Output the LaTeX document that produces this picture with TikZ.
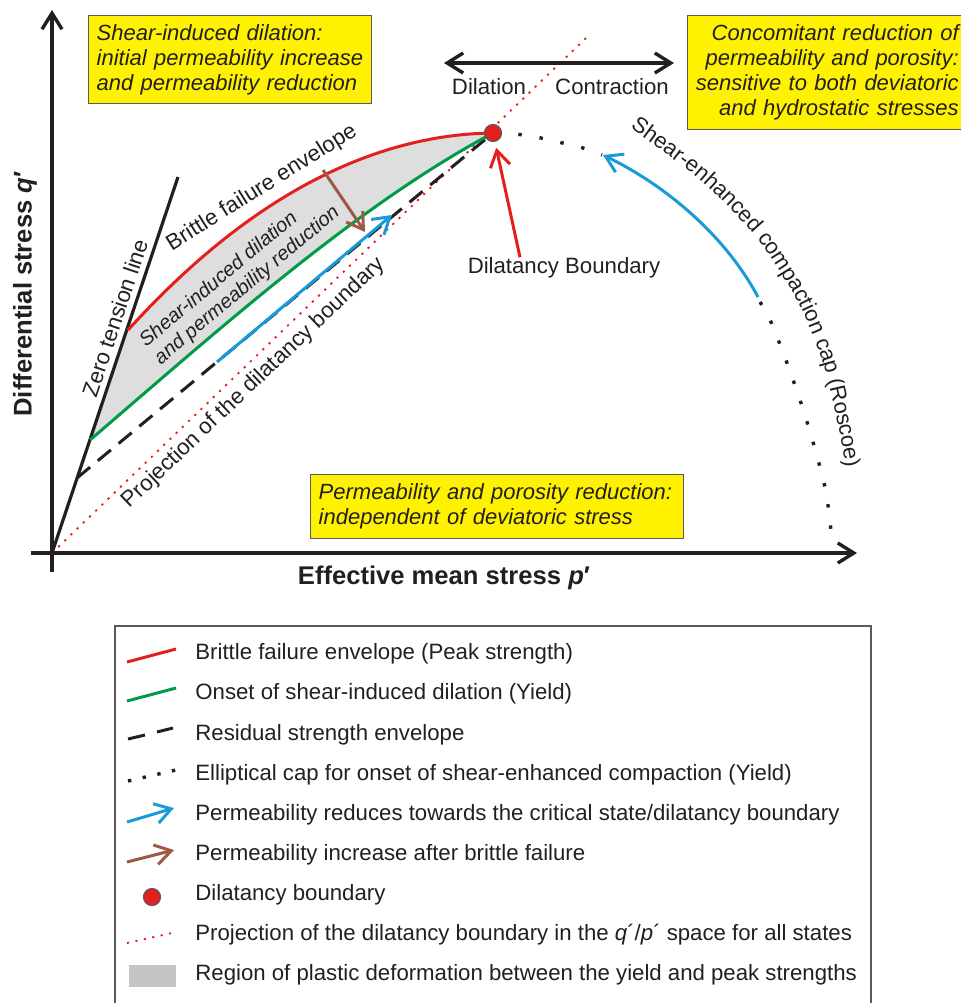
\documentclass[tikz,border=0pt]{standalone}
\usepackage{fontspec}
\setmainfont{Liberation Sans}
\usetikzlibrary{arrows.meta,positioning,decorations.text}
\definecolor{ink}{HTML}{231F20}
\definecolor{peakred}{HTML}{E3201E}
\definecolor{yieldgreen}{HTML}{009A48}
\definecolor{permblue}{HTML}{1A9AD7}
\definecolor{permbrown}{HTML}{9C5A46}
\definecolor{notepale}{HTML}{FFF200}
\definecolor{plastic}{HTML}{DEDEDE}
\definecolor{plastickey}{HTML}{C4C4C4}
\definecolor{frame}{HTML}{5A5A5A}
\newcommand\lblfont{\fontsize{11.1}{12.5}\selectfont}
\newcommand\capfont{\fontsize{11}{12.5}\selectfont}
\tikzset{
  >={Straight Barb[length=8pt,width=10pt]},
  axis/.style={->,line width=1.7pt,color=ink},
  note/.style={draw=frame,fill=notepale,line width=.7pt,inner xsep=4pt,inner ysep=0pt,font=\capfont\itshape,text=ink},
  lbl/.style={font=\lblfont,text=ink,inner sep=0pt},
  peak/.style={line width=1.5pt,color=peakred},
  yield/.style={line width=1.5pt,color=yieldgreen},
  residual/.style={line width=1.5pt,color=ink,dash pattern=on 8.5pt off 5pt},
  capdots/.style={line width=1.7pt,color=ink,dash pattern=on 1.7pt off 9pt},
  projline/.style={line width=.9pt,color=peakred,dash pattern=on 1.1pt off 3.2pt},
  permflow/.style={->,line width=1.5pt,color=permblue},
  failflow/.style={->,line width=1.5pt,color=permbrown},
  dbpoint/.style={circle,minimum size=8.5pt,inner sep=0pt,draw=frame,fill=peakred,line width=.6pt},
}

\begin{document}
\begin{tikzpicture}[x=0.5pt,y=-0.5pt]
  \useasboundingbox (0,0) rectangle (961,1003);

  % plastic region between yield and peak
  \fill[plastic] (128,330) .. controls (190,262) and (320,135) .. (493,133)
    .. controls (358,205) and (224,325) .. (90,440) -- cycle;

  % axes
  \coordinate (origin) at (52,553);
  \draw[axis] (52,572) -- (52,10);
  \draw[axis] (31,553) -- (857,553);

  % envelopes
  \draw[projline] (origin) -- (586,38);
  \draw[line width=1.6pt,color=ink] (origin) -- (178,177);
  \draw[residual] (77,478) -- (493,133);
  \draw[yield] (90,440) .. controls (224,325) and (358,205) .. (493,133);
  \draw[peak] (128,330) .. controls (190,262) and (320,135) .. (493,133);
  \draw[capdots] plot[smooth] coordinates {(497,133) (515,134) (536,137) (558,142) (580,147) (602,155)};
  \draw[capdots] plot[smooth] coordinates {(760,302) (771,322) (787,363) (802,406) (815,449) (826,492) (832,540)};

  \node[dbpoint] (dbpt) at (493,133) {};

  % permeability paths
  \coordinate (blueA) at (217,362);
  \coordinate (blueB) at (392,215);
  \draw[permflow] (blueA) -- (blueB);
  \coordinate (capA) at (758,297);
  \coordinate (capB) at (603,155);
  \draw[permflow] (capA) .. controls (725,235) and (665,185) .. (capB);
  \coordinate (brownA) at (323,170);
  \coordinate (brownB) at (365,232);
  \draw[failflow] (brownA) -- (brownB);

  % labels on the plot
  \node[lbl,rotate=71.5] (zerolbl) at (115,318) {Zero tension line};
  \node[lbl,rotate=32] (brittlelbl) at (262,188) {Brittle failure envelope};
  \node[lbl,rotate=43.5] (projlbl) at (254,383) {Projection of the dilatancy boundary};
  \node[lbl,font=\fontsize{10}{11.4}\selectfont\itshape,rotate=40,align=left] (plasticlbl) at (240,277)
    {Shear-induced dilation\\and permeability reduction};
  \node[lbl] (dblbl) at (564,268) {Dilatancy Boundary};
  \draw[->,line width=1.5pt,color=peakred,shorten >=3pt] ([xshift=-22pt]dblbl.north) -- (dbpt);
  \path[decorate,decoration={text along path,text={|\capfont\color{ink}|Shear-enhanced compaction cap (Roscoe)}}]
    plot[smooth] coordinates {(630,128) (700,180) (757,238) (797,300) (822,360) (837,420) (846,470) (850,520)};

  % dilation / contraction
  \coordinate (dilL) at (444,63);
  \coordinate (dilR) at (674,63);
  \draw[<->,line width=1.7pt,color=ink] (dilL) -- (dilR);
  \node[lbl] (dillbl) at (489,87) {Dilation};
  \node[lbl] (contlbl) at (612,87) {Contraction};

  % notes
  \node[note,anchor=north west,minimum width=141.5pt,minimum height=44pt,text width=133.5pt,align=left] (noteshear) at (88,15)
    {Shear-induced dilation:\\initial permeability increase\\and permeability reduction};
  \node[note,anchor=north west,minimum width=139.5pt,minimum height=57pt,text width=131.5pt,align=right] (noteconc) at (687,15)
    {Concomitant reduction of\\permeability and porosity:\\sensitive to both deviatoric\\and hydrostatic stresses};
  \node[note,anchor=north west,minimum width=186.5pt,minimum height=32pt,text width=178.5pt,align=left] (notehydro) at (310,474)
    {Permeability and porosity reduction:\\independent of deviatoric stress};

  % axis titles
  \node[lbl,font=\fontsize{12.8}{14}\selectfont\bfseries] (plbl) at (444,578) {Effective mean stress \textit{p}′};
  \node[lbl,font=\fontsize{12.8}{14}\selectfont\bfseries,rotate=90] (qlbl) at (25,294) {Differential stress \textit{q}′};

  % legend
  \draw[frame,line width=.6pt] (115,1012) rectangle (871,626);
  \draw[peak] (127,662) -- (176,649);
  \node[lbl,anchor=west] (key1) at (195,654) {Brittle failure envelope (Peak strength)};
  \draw[yield] (127,701) -- (176,688);
  \node[lbl,anchor=west] (key2) at (195,694) {Onset of shear-induced dilation (Yield)};
  \draw[line width=1.5pt,color=ink] (128,739) -- (145,735) (157,732) -- (173,728);
  \node[lbl,anchor=west] (key3) at (195,735) {Residual strength envelope};
  \draw[capdots,dash pattern=on 1.7pt off 5.8pt] (128,781) -- (176,770);
  \node[lbl,anchor=west] (key4) at (195,775) {Elliptical cap for onset of shear-enhanced compaction (Yield)};
  \draw[permflow] (127,822) -- (174,808);
  \node[lbl,anchor=west] (key5) at (195,815) {Permeability reduces towards the critical state/dilatancy boundary};
  \draw[failflow] (127,862) -- (174,850);
  \node[lbl,anchor=west] (key6) at (195,855) {Permeability increase after brittle failure};
  \node[dbpoint] (key7pt) at (152,897) {};
  \node[lbl,anchor=west] (key7) at (195,895) {Dilatancy boundary};
  \draw[projline] (127,943) -- (172,933);
  \node[lbl,anchor=west] (key8) at (195,935) {Projection of the dilatancy boundary in the \textit{q}´/\textit{p}´ space for all states};
  \fill[plastickey] (129,965) rectangle (176,987);
  \node[lbl,anchor=west] (key9) at (195,975) {Region of plastic deformation between the yield and peak strengths};
\end{tikzpicture}
\end{document}
